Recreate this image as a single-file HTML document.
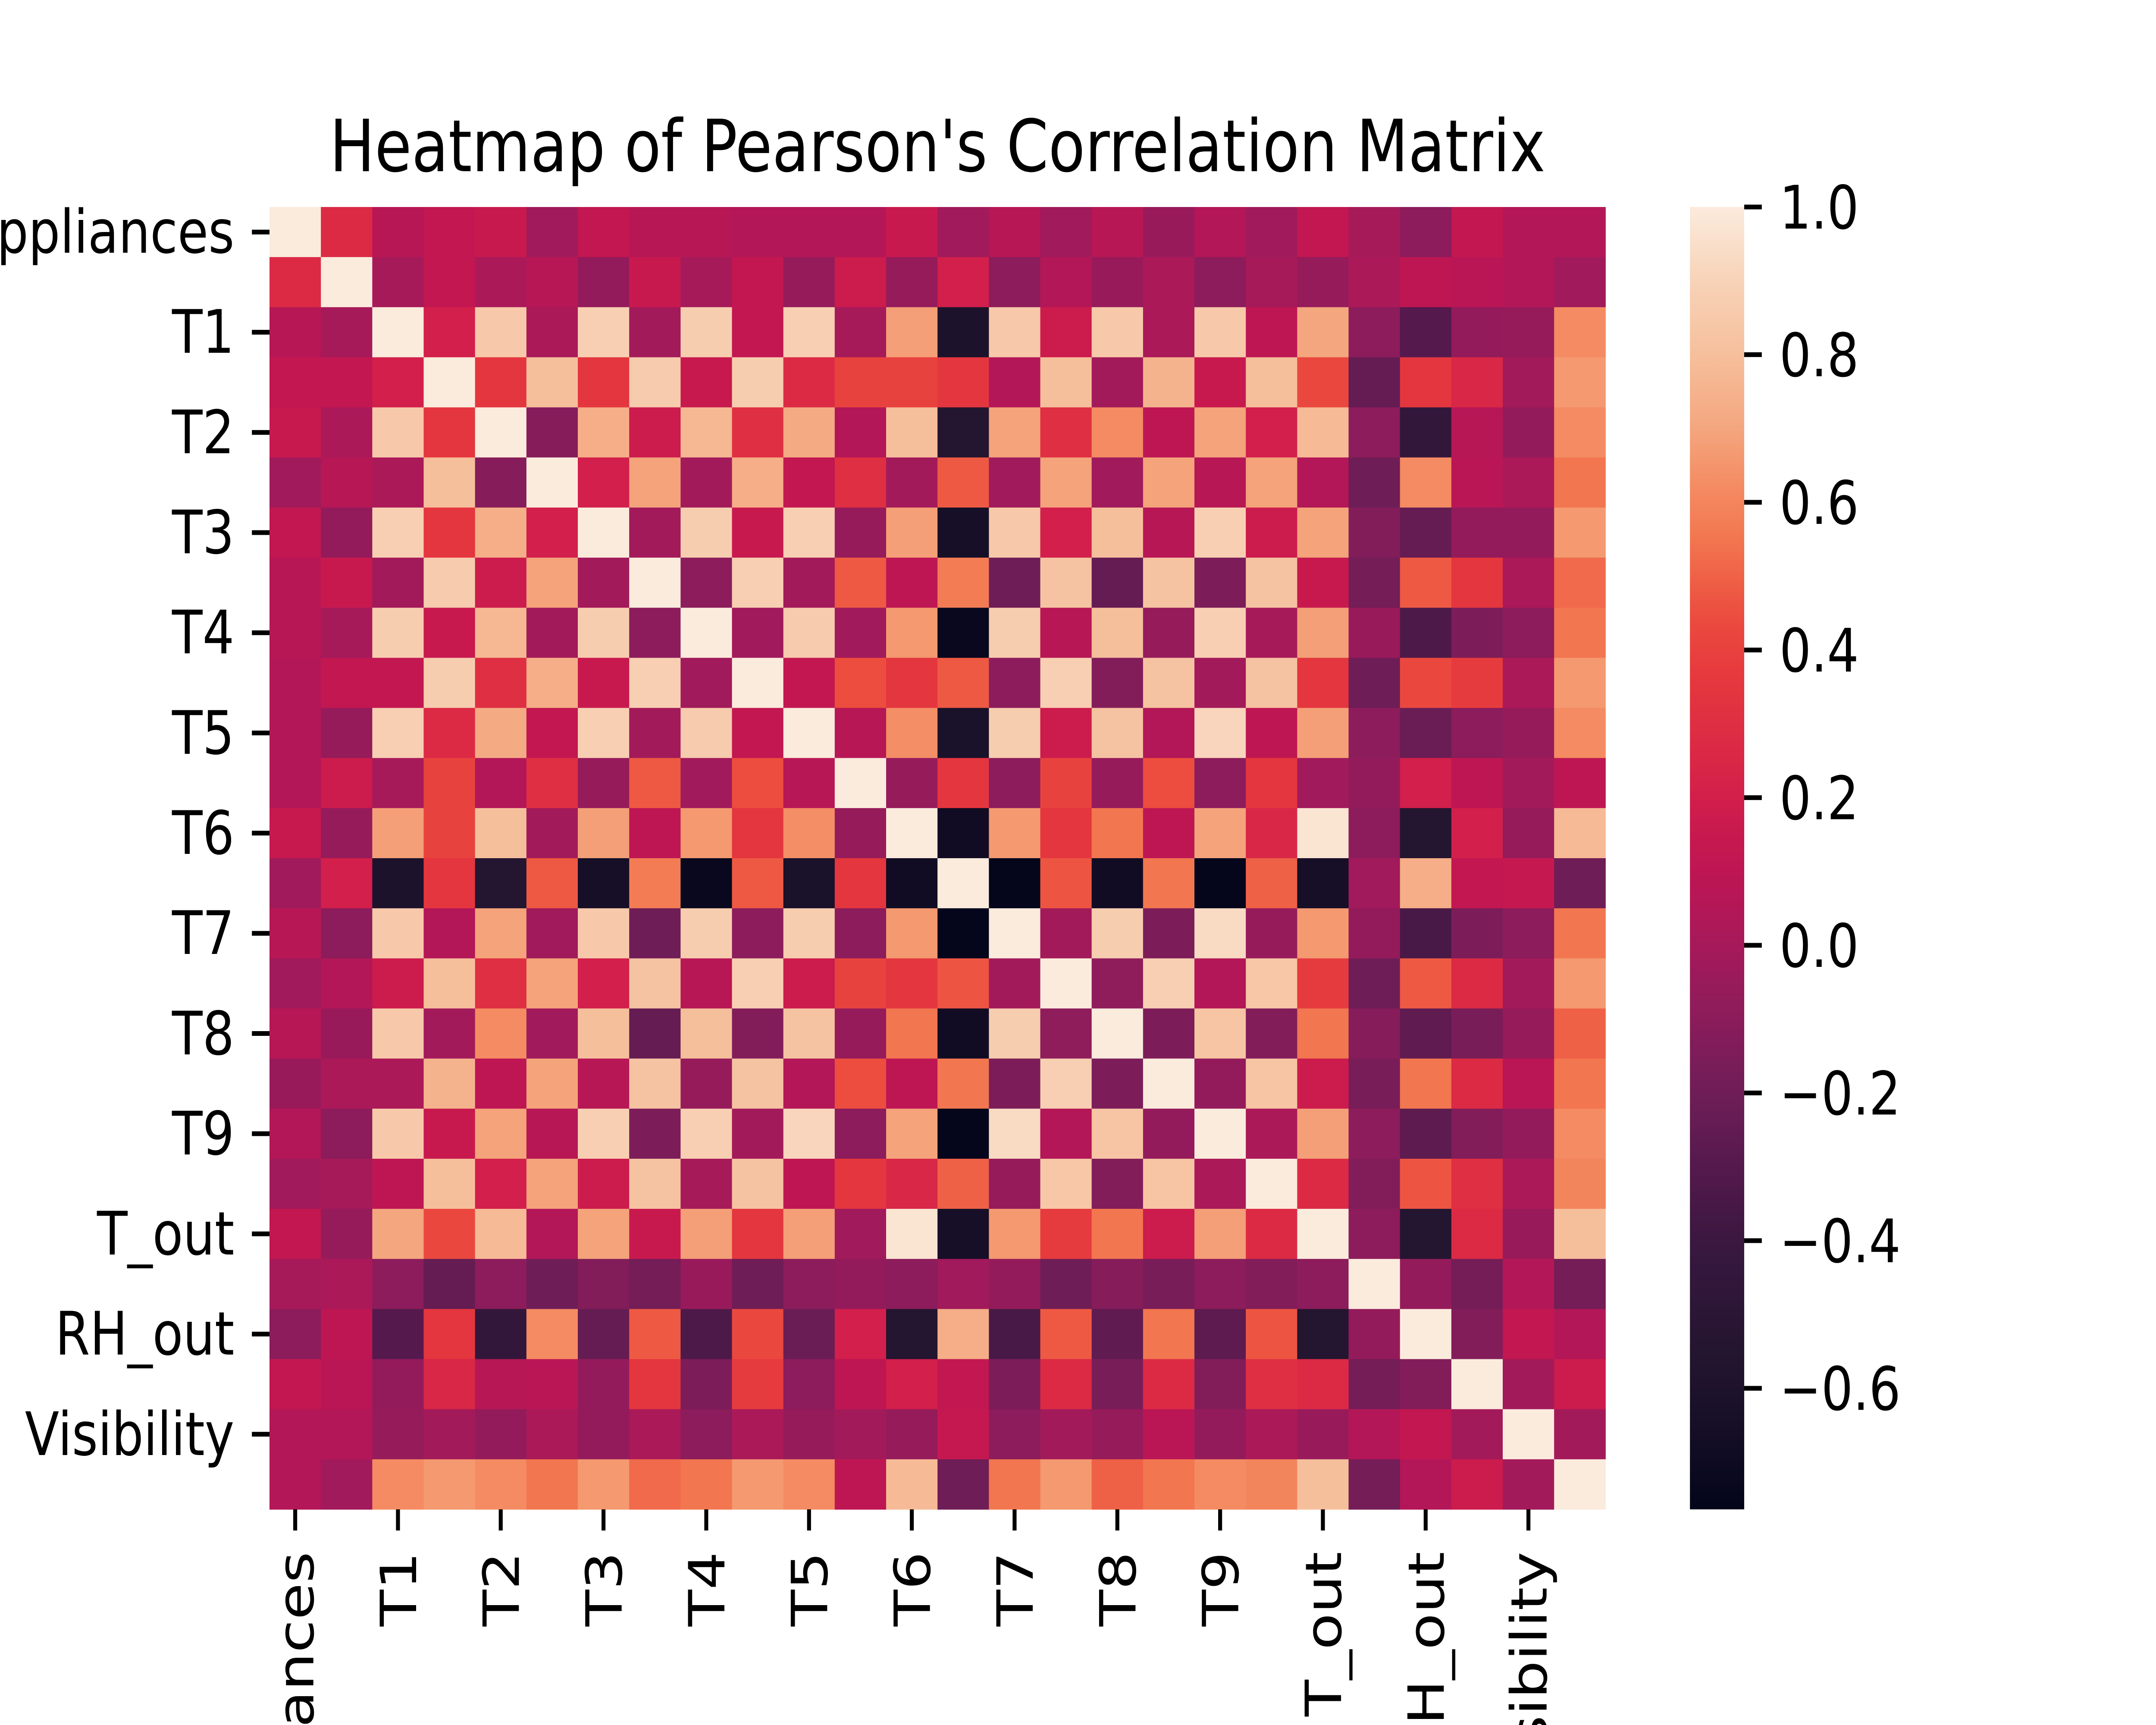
<!DOCTYPE html>
<html>
<head>
<meta charset="utf-8">
<style>
  html, body { margin: 0; padding: 0; background: #ffffff; width: 100%; height: 100%; overflow: hidden; }
  #root { position: absolute; left: 0; top: 0; width: 6000px; height: 4000px; overflow: hidden; transform-origin: 0 0; }
  svg { display: block; position: absolute; left: 0; top: 0; }
  text { font-family: "DejaVu Sans", "Liberation Sans", sans-serif; fill: #000; }
  .lbl { position: absolute; height: 160px; line-height: 160px; font-size: 139px; font-family: "DejaVu Sans", "Liberation Sans", sans-serif; color: #000; white-space: nowrap; overflow: hidden; direction: rtl; text-align: right; }
</style>
</head>
<body>
<div id="root">
<svg id="chart" width="6000" height="4000" viewBox="0 0 6000 4000" xmlns="http://www.w3.org/2000/svg">
  <rect x="0" y="0" width="6000" height="4000" fill="#ffffff"/>
  <text x="2609" y="397" font-size="167" text-anchor="middle">Heatmap of Pearson's Correlation Matrix</text>
  <g id="cells"></g>
  <g id="yticks"></g>
  <g id="xticks"></g>
  <defs>
    <linearGradient id="cbgrad" x1="0" y1="1" x2="0" y2="0"></linearGradient>
  </defs>
  <rect id="cbar" x="4703" y="480" width="151" height="3020" fill="url(#cbgrad)"/>
  <g id="cbticks"></g>
</svg>
</div>
<script>
const labels = ["Appliances","lights","T1","RH_1","T2","RH_2","T3","RH_3","T4","RH_4","T5","RH_5","T6","RH_6","T7","RH_7","T8","RH_8","T9","RH_9","T_out","Press_mm_hg","RH_out","Windspeed","Visibility","Tdewpoint"];
// upper triangle of the correlation matrix, row i starts at column i
const u0 = [1,0.27,0.07,0.12,0.15,-0.02,0.12,0.07,0.07,0.05,0.05,0.05,0.15,-0.02,0.07,-0.02,0.07,-0.05,0.05,-0.02,0.12,0.0,-0.1,0.12,0.05,0.05];
const u1 = [1,0.0,0.12,0.02,0.07,-0.07,0.15,0.0,0.12,-0.06,0.17,-0.06,0.2,-0.1,0.05,-0.05,0.02,-0.1,0.0,-0.06,0.02,0.1,0.08,0.05,-0.02];
const u2 = [1,0.2,0.85,0.02,0.88,-0.01,0.87,0.12,0.88,0.0,0.68,-0.6,0.85,0.17,0.85,0.02,0.85,0.1,0.7,-0.1,-0.3,-0.07,-0.06,0.62];
const u3 = [1,0.35,0.8,0.35,0.86,0.15,0.87,0.27,0.4,0.4,0.35,0.05,0.8,-0.01,0.75,0.15,0.8,0.43,-0.24,0.35,0.25,-0.01,0.66];
const u4 = [1,-0.12,0.73,0.17,0.77,0.3,0.72,0.05,0.8,-0.55,0.69,0.3,0.62,0.1,0.69,0.2,0.78,-0.1,-0.45,0.07,-0.07,0.62];
const u5 = [1,0.2,0.69,-0.01,0.73,0.12,0.3,-0.01,0.48,-0.02,0.69,-0.02,0.69,0.07,0.69,0.05,-0.2,0.62,0.08,0.02,0.55];
const u6 = [1,-0.01,0.87,0.15,0.88,-0.06,0.68,-0.65,0.85,0.2,0.8,0.07,0.88,0.17,0.69,-0.13,-0.24,-0.07,-0.07,0.66];
const u7 = [1,-0.1,0.88,-0.01,0.48,0.1,0.57,-0.2,0.82,-0.24,0.82,-0.15,0.82,0.15,-0.18,0.48,0.35,0.02,0.52];
const u8 = [1,-0.02,0.86,-0.02,0.66,-0.73,0.87,0.07,0.8,-0.06,0.88,0.0,0.68,-0.05,-0.33,-0.15,-0.1,0.55];
const u9 = [1,0.12,0.45,0.35,0.48,-0.1,0.88,-0.13,0.82,-0.01,0.82,0.35,-0.2,0.43,0.37,0.02,0.66];
const u10 = [1,0.07,0.63,-0.62,0.87,0.17,0.82,0.05,0.91,0.1,0.68,-0.1,-0.22,-0.1,-0.06,0.62];
const u11 = [1,-0.06,0.35,-0.1,0.4,-0.06,0.45,-0.1,0.35,-0.02,-0.07,0.2,0.1,-0.01,0.1];
const u12 = [1,-0.68,0.66,0.35,0.55,0.1,0.69,0.25,0.97,-0.1,-0.55,0.2,-0.06,0.78];
const u13 = [1,-0.75,0.47,-0.68,0.55,-0.75,0.5,-0.65,-0.02,0.73,0.12,0.14,-0.2];
const u14 = [1,-0.01,0.87,-0.15,0.93,-0.06,0.66,-0.07,-0.35,-0.15,-0.1,0.55];
const u15 = [1,-0.09,0.88,0.05,0.84,0.37,-0.2,0.48,0.27,-0.01,0.66];
const u16 = [1,-0.15,0.83,-0.13,0.55,-0.12,-0.26,-0.16,-0.06,0.5];
const u17 = [1,-0.07,0.83,0.17,-0.16,0.55,0.27,0.08,0.55];
const u18 = [1,0.02,0.68,-0.1,-0.27,-0.13,-0.07,0.62];
const u19 = [1,0.27,-0.13,0.47,0.3,0.02,0.6];
const u20 = [1,-0.1,-0.55,0.27,-0.05,0.8];
const u21 = [1,-0.07,-0.18,0.05,-0.18];
const u22 = [1,-0.13,0.12,0.05];
const u23 = [1,-0.01,0.17];
const u24 = [1,-0.01];
const u25 = [1];
const upperRows = [u0,u1,u2,u3,u4,u5,u6,u7,u8,u9,u10,u11,u12,u13,u14,u15,u16,u17,u18,u19,u20,u21,u22,u23,u24,u25];
const cbTicks = [-0.6,-0.4,-0.2,0.0,0.2,0.4,0.6,0.8,1.0];
const cbTickLabels = ["\u22120.6","\u22120.4","\u22120.2","0.0","0.2","0.4","0.6","0.8","1.0"];
const vmin = -0.764, vmax = 1.0;

const cmapStops = [
  [-0.764,"#03051a"],[-0.65,"#160f27"],[-0.55,"#241530"],[-0.4,"#3a1840"],[-0.3,"#55194d"],
  [-0.22,"#6a1d55"],[-0.15,"#7c1d59"],[-0.1,"#8c1c5b"],[-0.04,"#9b1a5b"],[0.0,"#a61a5a"],
  [0.05,"#b31757"],[0.1,"#be1653"],[0.15,"#c8194f"],[0.2,"#d21f4b"],[0.27,"#dc2a45"],
  [0.35,"#e4363e"],[0.45,"#ec4d3e"],[0.55,"#f27650"],[0.62,"#f48b62"],[0.7,"#f4a67e"],
  [0.8,"#f6bf9c"],[0.9,"#f8d3b8"],[1.0,"#fbebdd"]
];
function hex2rgb(h){return [parseInt(h.slice(1,3),16),parseInt(h.slice(3,5),16),parseInt(h.slice(5,7),16)];}
function cmap(v){
  v=Math.max(vmin,Math.min(vmax,v));
  for(let i=0;i<cmapStops.length-1;i++){
    const a=cmapStops[i],b=cmapStops[i+1];
    if(v>=a[0]&&v<=b[0]){
      const t=(v-a[0])/(b[0]-a[0]);const ca=hex2rgb(a[1]),cb=hex2rgb(b[1]);
      return "rgb("+ca.map((c,k)=>Math.round(c+(cb[k]-c)*t)).join(",")+")";
    }
  }
  return cmapStops[cmapStops.length-1][1];
}
function value(i,j){ return i<=j ? upperRows[i][j-i] : upperRows[j][i-j]; }

const NS="http://www.w3.org/2000/svg";
const root=document.getElementById("root");
function fit(){
  const sx=window.innerWidth/6000, sy=window.innerHeight/4000;
  if(sx>0&&sy>0) root.style.transform="scale("+sx+","+sy+")";
}
fit();
window.addEventListener("resize",fit);

const X0=750, X1=4468, Y0=480, Y1=3500;
const n=labels.length;
const cw=(X1-X0)/n, ch=(Y1-Y0)/n;
const xPos=j=>X0+j*cw, yPos=i=>Y0+i*ch;

const cells=document.getElementById("cells");
for(let i=0;i<n;i++){
  for(let j=0;j<n;j++){
    const r=document.createElementNS(NS,"rect");
    r.setAttribute("x",xPos(j));r.setAttribute("y",yPos(i));
    r.setAttribute("width",cw+0.6);r.setAttribute("height",ch+0.6);
    r.setAttribute("fill",cmap(value(i,j)));
    
    
    cells.appendChild(r);
  }
}
const yg=document.getElementById("yticks");
for(let i=0;i<n;i+=2){
  const yc=yPos(i)+ch/2;
  const t=document.createElementNS(NS,"line");
  t.setAttribute("x1",X0-49);t.setAttribute("x2",X0);t.setAttribute("y1",yc);t.setAttribute("y2",yc);
  t.setAttribute("stroke","#000");t.setAttribute("stroke-width","11");
  
  
  yg.appendChild(t);
  const d=document.createElement("div");
  d.className="lbl";
  d.style.left="0px";d.style.width=(X0-98)+"px";d.style.top=(yc-80)+"px";
  d.textContent=labels[i];
  
  
  root.appendChild(d);
}
const xg=document.getElementById("xticks");
const xLabTop=Y1+98, xLabLen=4000-(Y1+98);
for(let j=0;j<n;j+=2){
  const xc=xPos(j)+cw/2;
  const t=document.createElementNS(NS,"line");
  t.setAttribute("x1",xc);t.setAttribute("x2",xc);t.setAttribute("y1",Y1);t.setAttribute("y2",Y1+49);
  t.setAttribute("stroke","#000");t.setAttribute("stroke-width","11");
  
  
  xg.appendChild(t);
  const cy=xLabTop+xLabLen/2, cx=xc+2;
  const d=document.createElement("div");
  d.className="lbl";
  d.style.width=xLabLen+"px";
  d.style.left=(cx-xLabLen/2)+"px";d.style.top=(cy-80)+"px";
  d.style.transform="rotate(-90deg)";
  d.textContent=labels[j];
  
  
  root.appendChild(d);
}
const grad=document.getElementById("cbgrad");
for(let k=0;k<=60;k++){
  const v=vmin+(vmax-vmin)*k/60;
  const s=document.createElementNS(NS,"stop");
  s.setAttribute("offset",(k/60*100)+"%");s.setAttribute("stop-color",cmap(v));
  grad.appendChild(s);
}
const cbY=v=>Y1-(v-vmin)/(vmax-vmin)*(Y1-Y0);
const cbg=document.getElementById("cbticks");
cbTicks.forEach((v,k)=>{
  const y=cbY(v);
  const t=document.createElementNS(NS,"line");
  t.setAttribute("x1",4854);t.setAttribute("x2",4903);t.setAttribute("y1",y);t.setAttribute("y2",y);
  t.setAttribute("stroke","#000");t.setAttribute("stroke-width","11");
  
  
  cbg.appendChild(t);
  const tx=document.createElementNS(NS,"text");
  tx.setAttribute("x",4952);tx.setAttribute("y",y+50);tx.setAttribute("font-size","139");
  tx.textContent=cbTickLabels[k];
  
  
  cbg.appendChild(tx);
});
</script>
</body>
</html>
